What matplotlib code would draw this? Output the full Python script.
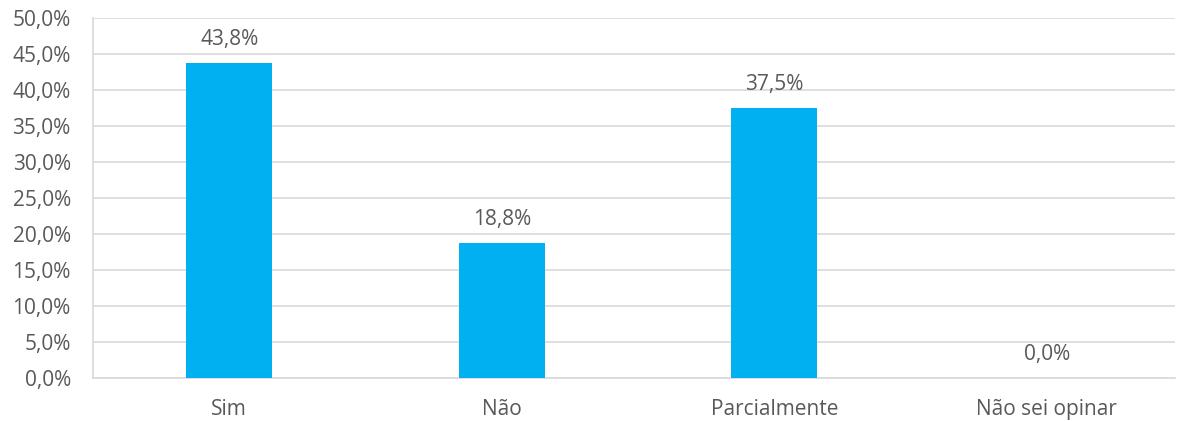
import matplotlib
matplotlib.use("Agg")
import matplotlib.pyplot as plt
from matplotlib.ticker import FuncFormatter, MultipleLocator

categories = ["Sim", "Não", "Parcialmente", "Não sei opinar"]
values = [43.8, 18.8, 37.5, 0.0]

plt.rcParams["font.family"] = ["Open Sans", "DejaVu Sans"]

text_color = "#595959"
grid_color = "#D9D9D9"

fig = plt.figure(figsize=(11.8, 4.21), dpi=100)
ax = fig.add_axes([93 / 1180, 1 - 378 / 421, (1175 - 93) / 1180, (378 - 18) / 421])

x = range(len(categories))
ax.bar(x, values, width=0.316, color="#00B0F0", zorder=3)

# etiquetas de valor encima de cada barra
for xi, v in zip(x, values):
    ax.text(xi, v + 1.8, f"{v:.1f}%".replace(".", ","), ha="center", va="bottom",
            fontsize=15, color=text_color)

ax.set_xlim(-0.5, len(categories) - 0.53)
ax.set_ylim(0, 50)
ax.yaxis.set_major_locator(MultipleLocator(5))
ax.yaxis.set_major_formatter(FuncFormatter(lambda v, p: f"{v:.1f}%".replace(".", ",")))
ax.set_xticks(list(x))
ax.set_xticklabels(categories)
ax.tick_params(axis="both", length=0, labelsize=15, labelcolor=text_color)
ax.tick_params(axis="x", pad=15)
ax.tick_params(axis="y", pad=16)

ax.grid(axis="y", color=grid_color, linewidth=1.2, zorder=0)
for side in ["top", "right"]:
    ax.spines[side].set_visible(False)
for side in ["left", "bottom"]:
    ax.spines[side].set_color(grid_color)
    ax.spines[side].set_linewidth(1.2)

fig.savefig("out.png", dpi=100)
